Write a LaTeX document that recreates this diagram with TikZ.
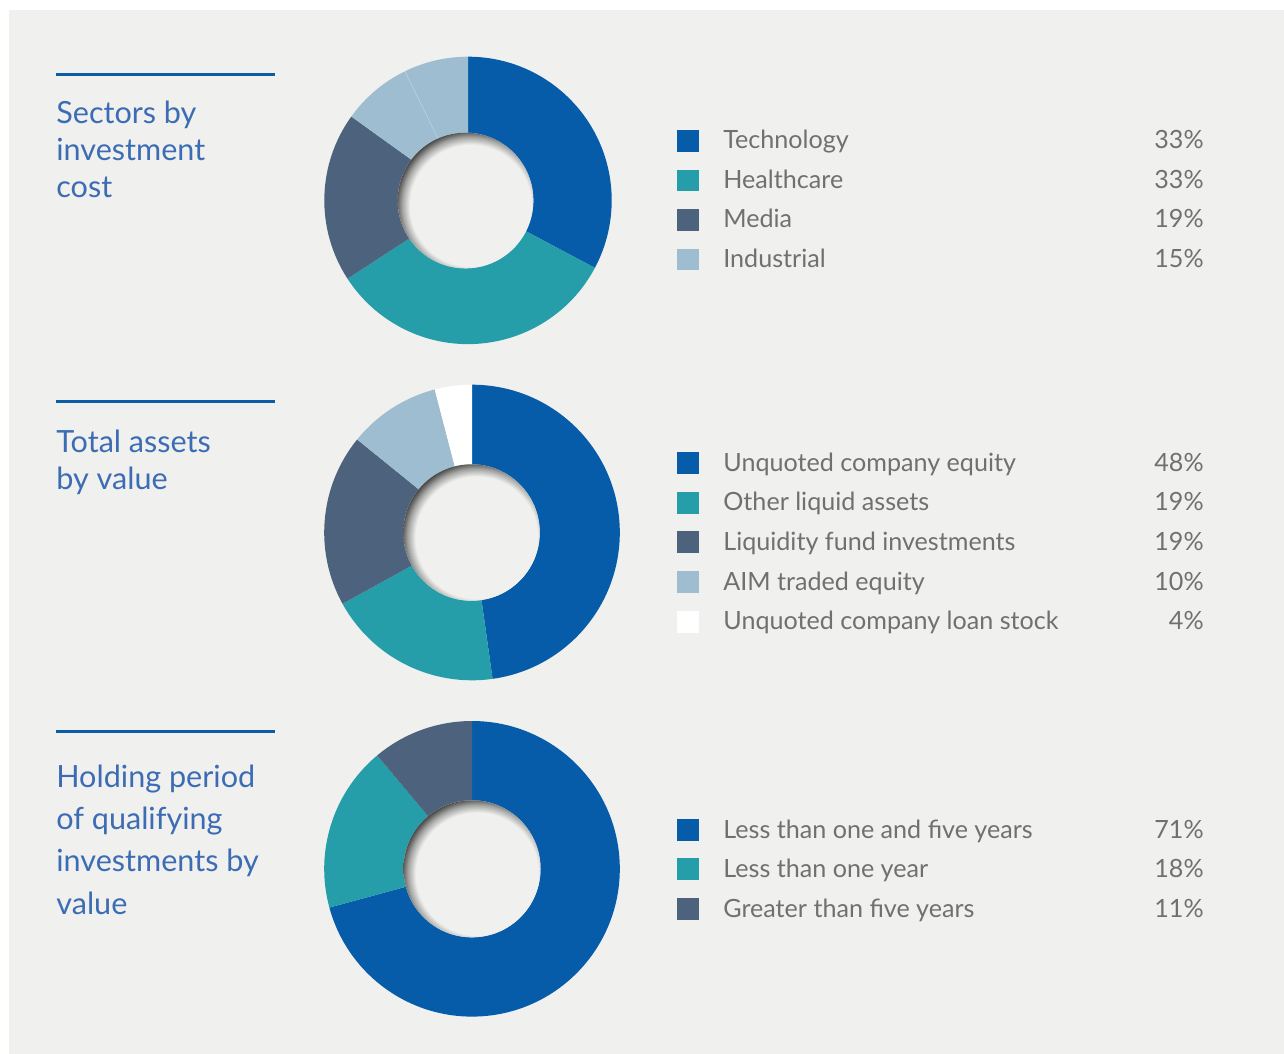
\documentclass[tikz,border=0pt]{standalone}
\usepackage{fontspec}
\setmainfont{Lato}
\usetikzlibrary{calc}

\definecolor{panel}{HTML}{F0F0EE}
\definecolor{techblue}{HTML}{065CA8}
\definecolor{tealc}{HTML}{259EAA}
\definecolor{slate}{HTML}{4D627C}
\definecolor{paleblue}{HTML}{9EBDD0}
\definecolor{titleblue}{HTML}{3C6DB4}
\definecolor{ruleblue}{HTML}{0D5CA8}
\definecolor{legendgray}{HTML}{707070}
\definecolor{shadowmid}{HTML}{A4A4A2}
\definecolor{shadowdark}{HTML}{3A3A3A}
\pgfdeclareradialshading{holeshadow}{\pgfpointorigin}{color(0bp)=(panel); color(20bp)=(panel); color(22.5bp)=(shadowmid); color(25bp)=(shadowdark); color(50bp)=(shadowdark)}

\begin{document}
\begin{tikzpicture}[x=0.02cm, y=0.02cm,
    heading/.style={anchor=base west, inner sep=0, align=left, text=titleblue, font=\fontsize{17.4}{21}\selectfont},
    legtext/.style={anchor=base west, inner sep=0, text=legendgray, font=\fontsize{14.3}{17}\selectfont},
    legpct/.style={anchor=base east, inner sep=0, text=legendgray, font=\fontsize{14.3}{17}\selectfont},
    legbox/.style={inner sep=0, minimum size=0.44cm},
    rulebar/.style={draw=ruleblue, line width=0.06cm}]
      \useasboundingbox (0,0) rectangle (1284,-1054);
      \fill[white] (0,0) rectangle (1284,-1054);
      \fill[panel] (9,-10) rectangle (1284,-1054);

      % headings
      \coordinate (r1a) at (56,-74.5);
      \coordinate (r1b) at (275,-74.5);
      \coordinate (r2a) at (56,-401.5);
      \coordinate (r2b) at (275,-401.5);
      \coordinate (r3a) at (56,-731.5);
      \coordinate (r3b) at (275,-731.5);
      \draw[rulebar] (r1a) -- (r1b);
      \draw[rulebar] (r2a) -- (r2b);
      \draw[rulebar] (r3a) -- (r3b);
      \node[heading] (sectors) at (56,-197.5) {Sectors by\\investment\\cost};
      \node[heading] (assets)  at (56,-489)   {Total assets\\by value};
      \node[heading, font=\fontsize{17.4}{24}\selectfont] (holding) at (56,-914) {Holding period\\of qualifying\\investments by\\value};

      % donuts
      \coordinate (top) at (468,-200.4);
      \coordinate (tophole) at (465.5,-200.5);
      \coordinate (mid) at (472,-532.5);
      \coordinate (midhole) at (471.5,-532.5);
      \coordinate (bot) at (472,-868.8);
      \coordinate (bothole) at (472,-868.8);

      \fill[techblue] (top) -- ++(90:143.7) arc[start angle=90, end angle=-28, radius=143.7] -- cycle;
      \fill[tealc]    (top) -- ++(-28:143.7) arc[start angle=-28, end angle=-147, radius=143.7] -- cycle;
      \fill[slate]    (top) -- ++(213:143.7) arc[start angle=213, end angle=144.3, radius=143.7] -- cycle;
      \fill[paleblue] (top) -- ++(144.3:143.7) arc[start angle=144.3, end angle=90, radius=143.7] -- cycle;
      \draw[white, opacity=0.35, line width=0.3pt] (top) ++(116:66) -- ++(116:78);

      \fill[techblue] (mid) -- ++(90:147.8) arc[start angle=90, end angle=-82, radius=147.8] -- cycle;
      \fill[tealc]    (mid) -- ++(-82:147.8) arc[start angle=-82, end angle=-151.2, radius=147.8] -- cycle;
      \fill[slate]    (mid) -- ++(208.8:147.8) arc[start angle=208.8, end angle=141, radius=147.8] -- cycle;
      \fill[paleblue] (mid) -- ++(141:147.8) arc[start angle=141, end angle=104.6, radius=147.8] -- cycle;
      \fill[white]    (mid) -- ++(104.6:147.8) arc[start angle=104.6, end angle=90, radius=147.8] -- cycle;

      \fill[techblue] (bot) -- ++(90:147.8) arc[start angle=90, end angle=-164.8, radius=147.8] -- cycle;
      \fill[tealc]    (bot) -- ++(195.2:147.8) arc[start angle=195.2, end angle=129.9, radius=147.8] -- cycle;
      \fill[slate]    (bot) -- ++(129.9:147.8) arc[start angle=129.9, end angle=90, radius=147.8] -- cycle;

      % holes with inner shadow
      \fill[panel] (tophole) circle (67.8);
      \begin{scope}
        \clip (tophole) circle (67.8);
        \shade[shading=holeshadow] ($(tophole)+(5,-5)$) circle (76);
      \end{scope}
      \fill[panel] (midhole) circle (68.2);
      \begin{scope}
        \clip (midhole) circle (68.2);
        \shade[shading=holeshadow] ($(midhole)+(5,-5)$) circle (76.4);
      \end{scope}
      \fill[panel] (bothole) circle (68.5);
      \begin{scope}
        \clip (bothole) circle (68.5);
        \shade[shading=holeshadow] ($(bothole)+(5,-5)$) circle (76.7);
      \end{scope}

      % legend, sectors
      \node[legbox, fill=techblue] (tech-box)   at (688,-141) {};
      \node[legbox, fill=tealc]    (health-box) at (688,-180.5) {};
      \node[legbox, fill=slate]    (media-box)  at (688,-220) {};
      \node[legbox, fill=paleblue] (indus-box)  at (688,-259.5) {};
      \node[legtext] (tech-lbl)   at (723,-149)   {Technology};
      \node[legtext] (health-lbl) at (723,-188.5) {Healthcare};
      \node[legtext] (media-lbl)  at (723,-228)   {Media};
      \node[legtext] (indus-lbl)  at (723,-267.5) {Industrial};
      \node[legpct] (tech-pct)   at (1204,-149)   {33\%};
      \node[legpct] (health-pct) at (1204,-188.5) {33\%};
      \node[legpct] (media-pct)  at (1204,-228)   {19\%};
      \node[legpct] (indus-pct)  at (1204,-267.5) {15\%};

      % legend, assets
      \node[legbox, fill=techblue] (equity-box) at (688,-463) {};
      \node[legbox, fill=tealc]    (liquid-box) at (688,-502.5) {};
      \node[legbox, fill=slate]    (fund-box)   at (688,-542) {};
      \node[legbox, fill=paleblue] (aim-box)    at (688,-582) {};
      \node[legbox, fill=white]    (loan-box)   at (688,-621.5) {};
      \node[legtext] (equity-lbl) at (723,-471)   {Unquoted company equity};
      \node[legtext] (liquid-lbl) at (723,-510.5) {Other liquid assets};
      \node[legtext] (fund-lbl)   at (723,-550)   {Liquidity fund investments};
      \node[legtext] (aim-lbl)    at (723,-590)   {AIM traded equity};
      \node[legtext] (loan-lbl)   at (723,-629.5) {Unquoted company loan stock};
      \node[legpct] (equity-pct) at (1204,-471)   {48\%};
      \node[legpct] (liquid-pct) at (1204,-510.5) {19\%};
      \node[legpct] (fund-pct)   at (1204,-550)   {19\%};
      \node[legpct] (aim-pct)    at (1204,-590)   {10\%};
      \node[legpct] (loan-pct)   at (1204,-629.5) {4\%};

      % legend, holding period
      \node[legbox, fill=techblue] (mid-box)   at (688,-830) {};
      \node[legbox, fill=tealc]    (short-box) at (688,-869) {};
      \node[legbox, fill=slate]    (long-box)  at (688,-909) {};
      \node[legtext] (mid-lbl)   at (723,-838) {Less than one and five years};
      \node[legtext] (short-lbl) at (723,-877) {Less than one year};
      \node[legtext] (long-lbl)  at (723,-917) {Greater than five years};
      \node[legpct] (mid-pct)   at (1204,-838) {71\%};
      \node[legpct] (short-pct) at (1204,-877) {18\%};
      \node[legpct] (long-pct)  at (1204,-917) {11\%};
    \end{tikzpicture}
\end{document}
